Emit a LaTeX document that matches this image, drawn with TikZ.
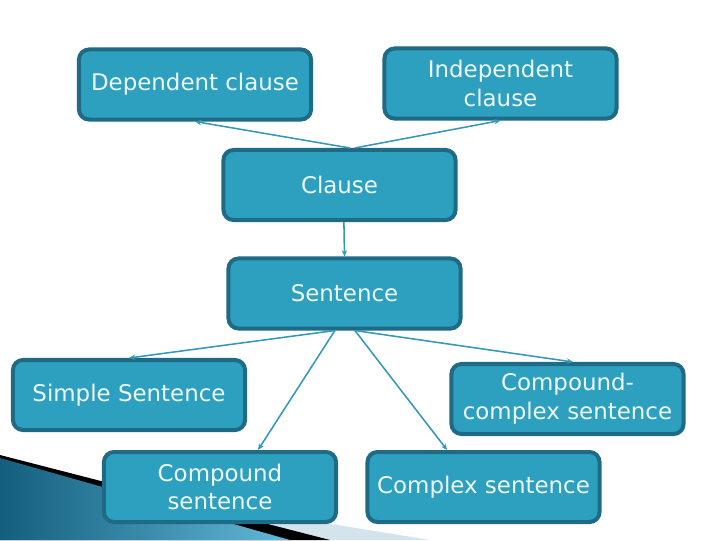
\documentclass[tikz,border=0pt]{standalone}
\usepackage{fontspec}
\setmainfont{DejaVu Sans}
\usepackage{xcolor}
\usepackage{tikz}
\usetikzlibrary{arrows.meta, positioning, calc}
\definecolor{kfill}{HTML}{2DA0BF}
\definecolor{kedge}{HTML}{1F6A85}
\definecolor{klink}{HTML}{3598B8}
\definecolor{ktext}{HTML}{EEF8FB}
\definecolor{sdark}{HTML}{135E7E}
\definecolor{slight}{HTML}{62B9D9}
\definecolor{spale}{HTML}{D3E4EC}

\begin{document}
\begin{tikzpicture}[x=0.025cm, y=-0.025cm,
  tbox/.style={draw=kedge, fill=kfill, line width=0.1cm, rounded corners=0.25cm,
    minimum width=5.8cm, minimum height=1.75cm, inner sep=0pt, align=center,
    text=ktext, font=\fontsize{16.3}{20.5}\selectfont},
  tlink/.style={-{Stealth[length=4.5pt,width=3.8pt]}, draw=klink, line width=1.1pt}]

  \useasboundingbox (0,0) rectangle (720,540);

  %% Swoosh, bottom left
  \fill[spale] (0,470) -- (430,540) -- (0,540) -- cycle;
  \fill[black] (0,455) -- (330,540) -- (0,540) -- cycle;
  \shade[left color=sdark, right color=slight] (0,458) -- (290,540) -- (0,540) -- cycle;

  %% ── Clauses ───────────────────────────────────────────────────────────
  \node[tbox] (dep) at (195,84.5) {Dependent clause};
  \node[tbox] (ind) at (500.5,83.5) {Independent\\clause};
  \node[tbox] (clause) at (339.5,185) {Clause};

  %% ── Sentences ─────────────────────────────────────────────────────────
  \node[tbox] (sent) at (344.5,293.5) {Sentence};
  \node[tbox] (simple) at (129,395) {Simple Sentence};
  \node[tbox] (cc) at (567.5,399) {Compound-\\complex sentence};
  \node[tbox] (comp) at (220,487) {Compound\\sentence};
  \node[tbox] (cplx) at (483.5,487) {Complex sentence};

  %% Links
  \draw[tlink] ([xshift=0.26cm]clause.north) -- (dep.south);
  \draw[tlink] ([xshift=0.38cm]clause.north) -- (ind.south);
  \draw[tlink] ([xshift=0.11cm]clause.south) -- (sent.north);
  \draw[tlink] ([xshift=-0.24cm]sent.south) -- (simple.north);
  \draw[tlink] ([xshift=-0.24cm]sent.south) -- ([xshift=0.95cm]comp.north);
  \draw[tlink] ([xshift=0.26cm]sent.south) -- ([xshift=-0.91cm]cplx.north);
  \draw[tlink] ([xshift=0.26cm]sent.south) -- ([xshift=0.14cm]cc.north);

\end{tikzpicture}
\end{document}
